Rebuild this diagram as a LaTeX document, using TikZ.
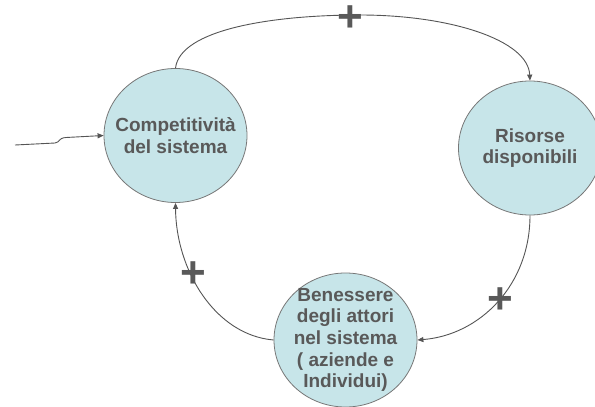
\documentclass[tikz,border=0pt]{standalone}
\usepackage{fontspec}
\setmainfont{Liberation Sans}
\usetikzlibrary{arrows.meta,shapes.geometric}
\definecolor{circfill}{HTML}{C7E5E9}
\definecolor{circline}{HTML}{777777}
\definecolor{txtgray}{HTML}{595959}
\definecolor{linegray}{HTML}{555555}
\tikzset{
  stock/.style={ellipse, draw=circline, line width=0.8pt, fill=circfill,
    minimum width=143pt, minimum height=134pt, inner sep=0pt},
  stocktext/.style={align=center, text=txtgray, inner sep=0pt,
    font=\fontsize{19}{21.7}\selectfont\bfseries},
  link/.style={draw=linegray, line width=0.9pt, -{Triangle[length=6pt,width=5pt]}},
  sign/.style={text=txtgray, inner sep=0pt, text height=27pt, text depth=-4pt,
    font=\fontsize{44}{44}\selectfont\bfseries}
}
\begin{document}
\begin{tikzpicture}[x=1pt,y=-1pt]
\useasboundingbox (0,0) rectangle (595,407);
\clip (0,0) rectangle (595,407);
\node[stock] (c) at (175.5,135.5) {};
\node[stocktext] (ct) at (c.center) {Competitività\\del sistema};
\node[stock] (r) at (530,148) {};
\node[stocktext] (rt) at (r.center) {Risorse\\disponibili};
\node[stock] (b) at (345.5,340) {};
\node[stocktext] (bt) at (b.center) {Benessere\\degli attori\\nel sistema\\( aziende e\\Individui)};
\coordinate (in) at (15,145);
\draw[link] (in) -- (55,143) .. controls (60,142.5) and (58,138) .. (66,137.5) -- (c.west);
\draw[link] (c.north) .. controls (180,30) and (270,15) .. (360,15) .. controls (450,15) and (528,40) .. (r.north);
\draw[link] (r.south) .. controls (530,285) and (480,335) .. (b.east);
\draw[link] (b.west) .. controls (215,335) and (176,270) .. (c.south);
\node[sign] (p1) at (350,18) {+};
\node[sign] (p2) at (500,300) {+};
\node[sign] (p3) at (193,274) {+};
\end{tikzpicture}
\end{document}
